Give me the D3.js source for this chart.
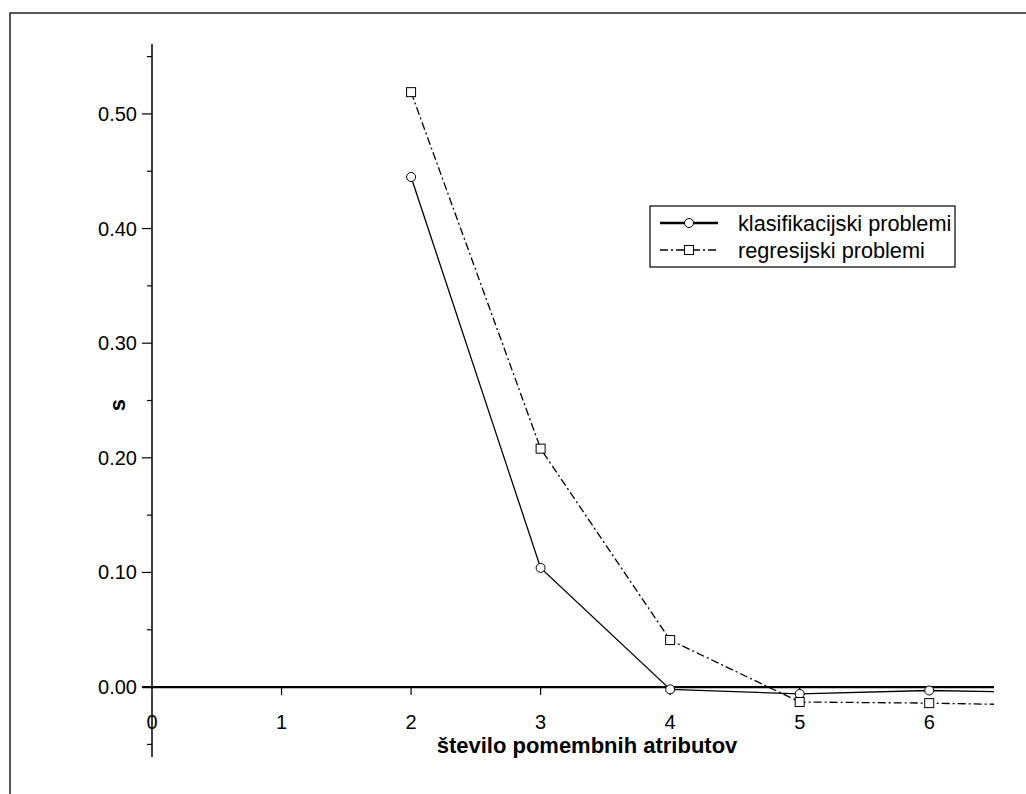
<!DOCTYPE html>
<html>
<head>
<meta charset="utf-8">
<script src="https://cdn.jsdelivr.net/npm/d3@7"></script>
<style>
  body { margin: 0; background: #fff; }
  svg { display: block; font-family: "Liberation Sans", Arial, sans-serif; }
</style>
</head>
<body>
<svg id="chart" width="1026" height="794"></svg>
<script>
// x positions (last one is the line end, no marker there)
const xVals = [2, 3, 4, 5, 6, 6.5];
const klasifikacijski = [0.445, 0.104, -0.002, -0.006, -0.003, -0.004];
const regresijski = [0.519, 0.208, 0.041, -0.013, -0.014, -0.015];
const xTicks = [0, 1, 2, 3, 4, 5, 6];
const yTicks = [0, 0.1, 0.2, 0.3, 0.4, 0.5];
const yMinor = [-0.05, 0.05, 0.15, 0.25, 0.35, 0.45, 0.55];
const legendLabels = ["klasifikacijski problemi", "regresijski problemi"];

const svg = d3.select("#chart");
const x = d3.scaleLinear().domain([0, 6.5]).range([152, 994]);
const y = d3.scaleLinear().domain([-0.061, 0.561]).range([757, 44]);

// outer frame (only top/left edges visible)
svg.append("path").attr("d", "M10,794V13H1026").attr("fill", "none")
  .attr("stroke", "#222").attr("stroke-width", 1.5);

// y axis
svg.append("line").attr("x1", x(0)).attr("x2", x(0)).attr("y1", y.range()[0]).attr("y2", y.range()[1])
  .attr("stroke", "#000").attr("stroke-width", 1.5);
svg.selectAll(".ymaj").data(yTicks).join("line")
  .attr("x1", x(0) - 10).attr("x2", x(0)).attr("y1", d => y(d)).attr("y2", d => y(d))
  .attr("stroke", "#000").attr("stroke-width", 1.2);
svg.selectAll(".ymin").data(yMinor).join("line")
  .attr("x1", x(0) - 5).attr("x2", x(0)).attr("y1", d => y(d)).attr("y2", d => y(d))
  .attr("stroke", "#000").attr("stroke-width", 1.2);
svg.selectAll(".ylab").data(yTicks).join("text")
  .attr("x", x(0) - 15).attr("y", d => y(d) + 7).attr("text-anchor", "end")
  .attr("font-size", 20).text(d3.format(".2f"));

// zero line / x axis
svg.append("line").attr("x1", x(0) - 10).attr("x2", x(6.5)).attr("y1", y(0)).attr("y2", y(0))
  .attr("stroke", "#000").attr("stroke-width", 2.2);
svg.selectAll(".xt").data(xTicks.filter(d => d > 0)).join("line")
  .attr("x1", d => x(d)).attr("x2", d => x(d)).attr("y1", y(0)).attr("y2", y(0) + 8)
  .attr("stroke", "#000").attr("stroke-width", 1.2);
svg.selectAll(".xlab").data(xTicks).join("text")
  .attr("x", d => x(d)).attr("y", 729).attr("text-anchor", "middle")
  .attr("font-size", 20).text(d => d);

// axis titles
svg.append("text").attr("x", 587).attr("y", 753).attr("text-anchor", "middle")
  .attr("font-size", 22).attr("font-weight", "bold").text("število pomembnih atributov");
svg.append("text").attr("transform", `translate(125,${y(0.246)}) rotate(-90)`)
  .attr("text-anchor", "middle").attr("font-size", 22).attr("font-weight", "bold").text("s");

// series
const line = d3.line().x(d => x(d[0])).y(d => y(d[1]));
const kPts = xVals.map((v, i) => [v, klasifikacijski[i]]);
const rPts = xVals.map((v, i) => [v, regresijski[i]]);
const dash = "8,3,2,3";

svg.append("path").datum(kPts).attr("d", line).attr("fill", "none")
  .attr("stroke", "#000").attr("stroke-width", 1.3);
svg.append("path").datum(rPts).attr("d", line).attr("fill", "none")
  .attr("stroke", "#000").attr("stroke-width", 1.3).attr("stroke-dasharray", dash);

svg.selectAll(".kc").data(kPts.filter(p => Number.isInteger(p[0]))).join("circle")
  .attr("cx", d => x(d[0])).attr("cy", d => y(d[1])).attr("r", 4.5)
  .attr("fill", "#fff").attr("stroke", "#000").attr("stroke-width", 1);
svg.selectAll(".rs").data(rPts.filter(p => Number.isInteger(p[0]))).join("rect")
  .attr("x", d => x(d[0]) - 4.5).attr("y", d => y(d[1]) - 4.5).attr("width", 9).attr("height", 9)
  .attr("fill", "#fff").attr("stroke", "#000").attr("stroke-width", 1);

// legend
const lg = svg.append("g");
lg.append("rect").attr("x", 650).attr("y", 206).attr("width", 305).attr("height", 61)
  .attr("fill", "#fff").attr("stroke", "#000").attr("stroke-width", 1.2);
const rows = lg.selectAll(".row").data(legendLabels).join("g")
  .attr("transform", (d, i) => `translate(0,${223 + i * 27})`);
rows.append("line").attr("x1", 660).attr("x2", 718).attr("y1", 0).attr("y2", 0)
  .attr("stroke", "#000").attr("stroke-width", (d, i) => i === 0 ? 2.4 : 1.3)
  .attr("stroke-dasharray", (d, i) => i === 0 ? null : dash);
rows.filter((d, i) => i === 0).append("circle").attr("cx", 689).attr("cy", 0).attr("r", 4.5)
  .attr("fill", "#fff").attr("stroke", "#000");
rows.filter((d, i) => i === 1).append("rect").attr("x", 684.5).attr("y", -4.5).attr("width", 9).attr("height", 9)
  .attr("fill", "#fff").attr("stroke", "#000");
rows.append("text").attr("x", 738).attr("y", 7.5).attr("font-size", 21.7).text(d => d);
</script>
</body>
</html>
